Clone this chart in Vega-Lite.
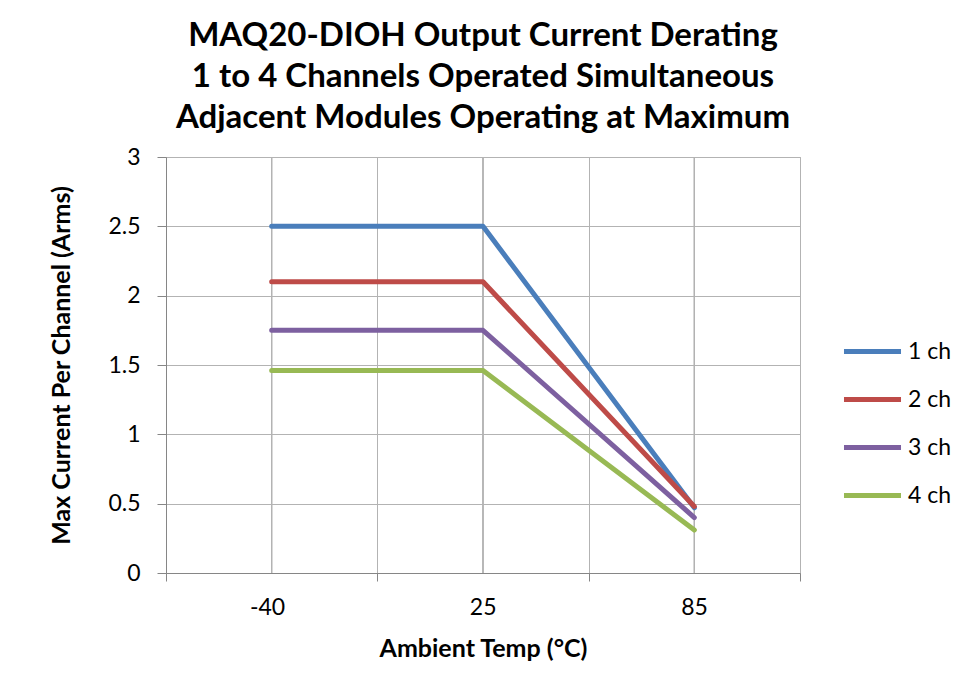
{
  "$schema": "https://vega.github.io/schema/vega-lite/v6.json",
  "autosize": {"type": "none"},
  "padding": {"left": 166, "top": 157, "right": 164, "bottom": 104},
  "width": 634,
  "height": 416,
  "background": "white",
  "title": {
    "text": ["MAQ20-DIOH Output Current Derating", "1 to 4 Channels Operated Simultaneous", "Adjacent Modules Operating at Maximum"],
    "font": "Lato",
    "fontSize": 33,
    "fontWeight": "bold",
    "color": "#000000",
    "lineHeight": 41,
    "anchor": "middle",
    "offset": 11
  },
  "data": {
    "values": [
      {"temp": -40, "current": 2.5, "series": "1 ch"},
      {"temp": 25, "current": 2.5, "series": "1 ch"},
      {"temp": 85, "current": 0.47, "series": "1 ch"},
      {"temp": -40, "current": 2.1, "series": "2 ch"},
      {"temp": 25, "current": 2.1, "series": "2 ch"},
      {"temp": 85, "current": 0.48, "series": "2 ch"},
      {"temp": -40, "current": 1.75, "series": "3 ch"},
      {"temp": 25, "current": 1.75, "series": "3 ch"},
      {"temp": 85, "current": 0.4, "series": "3 ch"},
      {"temp": -40, "current": 1.46, "series": "4 ch"},
      {"temp": 25, "current": 1.46, "series": "4 ch"},
      {"temp": 85, "current": 0.31, "series": "4 ch"}
    ]
  },
  "config": {
    "view": {"stroke": "#B3B3B3", "strokeWidth": 1},
    "axis": {
      "labelFont": "Lato",
      "labelFontSize": 23,
      "labelColor": "#000000",
      "titleFont": "Lato",
      "titleFontSize": 25,
      "titleFontWeight": "bold",
      "titleColor": "#000000",
      "gridColor": "#B3B3B3",
      "gridOpacity": 1,
      "domainColor": "#868686",
      "tickColor": "#868686"
    }
  },
  "layer": [
    {
      "mark": {"type": "rule", "color": "#B3B3B3", "strokeWidth": 1},
      "encoding": {
        "x": {"field": "temp", "type": "ordinal", "bandPosition": 0.5}
      }
    },
    {
      "mark": {"type": "line", "strokeWidth": 5, "strokeCap": "round", "strokeJoin": "round"},
      "encoding": {
        "x": {
          "field": "temp",
          "type": "ordinal",
          "bandPosition": 0.5,
          "scale": {"type": "band", "paddingInner": 0, "paddingOuter": 0},
          "axis": {
            "title": "Ambient Temp (°C)",
            "labelAngle": 0,
            "tickBand": "extent",
            "grid": true,
            "tickSize": 8,
            "labelPadding": 26,
            "labelOffset": 13,
            "titlePadding": 17
          }
        },
        "y": {
          "field": "current",
          "type": "quantitative",
          "scale": {"domain": [0, 3]},
          "axis": {
            "title": "Max Current Per Channel (Arms)",
            "values": [0, 0.5, 1, 1.5, 2, 2.5, 3],
            "format": "~g",
            "tickSize": 9,
            "labelPadding": 17,
            "titlePadding": 33,
            "grid": true
          }
        },
        "color": {
          "field": "series",
          "type": "nominal",
          "scale": {"domain": ["1 ch", "2 ch", "3 ch", "4 ch"], "range": ["#4A7EBB", "#BE4B48", "#7D60A0", "#98B954"]},
          "legend": {
            "title": null,
            "orient": "none",
            "legendX": 675,
            "legendY": 163,
            "symbolType": "stroke",
            "symbolSize": 3250,
            "symbolStrokeWidth": 5,
            "labelFont": "Lato",
            "labelFontSize": 23,
            "labelColor": "#000000",
            "labelOffset": 4,
            "rowPadding": 4
          }
        }
      }
    }
  ]
}
